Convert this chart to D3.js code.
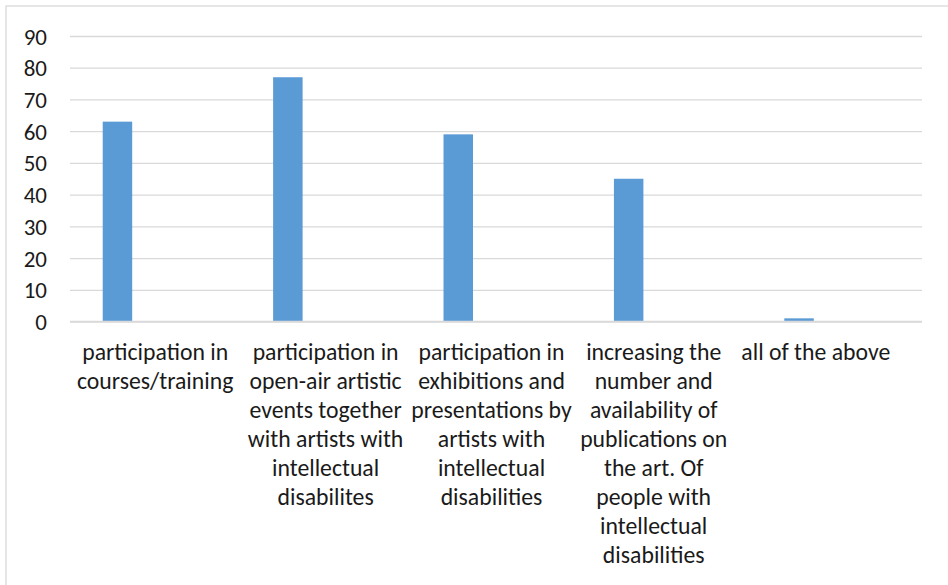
<!DOCTYPE html>
<html>
<head>
<meta charset="utf-8">
<script src="https://cdn.jsdelivr.net/npm/d3@7"></script>
<style>
  html, body { margin: 0; padding: 0; background: #fff; }
  svg { display: block; }
</style>
</head>
<body>
<svg id="chart" width="948" height="585"></svg>
<script>
// ---- data ----
const categories = [
  "participation in\ncourses/training",
  "participation in\nopen-air artistic\nevents together\nwith artists with\nintellectual\ndisabilites",
  "participation in\nexhibitions and\npresentations by\nartists with\nintellectual\ndisabilities",
  "increasing the\nnumber and\navailability of\npublications on\nthe art. Of\npeople with\nintellectual\ndisabilities",
  "all of the above"
];
const values = [63, 77, 59, 45, 1];
const yTickValues = [0, 10, 20, 30, 40, 50, 60, 70, 80, 90];

// ---- layout ----
const W = 948, H = 585;
const plot = { left: 70, right: 922, top: 36, bottom: 321.5 };
const FONT = "Carlito, Calibri, Lato, 'Open Sans', sans-serif";
const labelShift = [0, 0, -4.5, -12.7, -21];

const svg = d3.select("#chart");

// fit font size so that reference text has a target width
function fitSize(str, target) {
  const t = svg.append("text").attr("font-family", FONT).attr("font-size", 100).text(str);
  const w = t.node().getComputedTextLength();
  t.remove();
  return 100 * target / w;
}
const labelSize = fitSize("participation in", 146);
const tickSize = fitSize("90", 23.3);

// chart border
svg.append("rect")
  .attr("x", 6).attr("y", 6).attr("width", W + 10).attr("height", H + 10)
  .attr("fill", "#fff").attr("stroke", "#d9d9d9").attr("stroke-width", 1.3);

const x = d3.scaleBand().domain(categories).range([plot.left, plot.right]).padding(0);
const y = d3.scaleLinear().domain([0, 90]).range([plot.bottom, plot.top]);

// y axis with gridlines
const yAxis = d3.axisLeft(y)
  .tickValues(yTickValues)
  .tickSize(-(plot.right - plot.left))
  .tickPadding(23)
  .tickFormat(d3.format("d"));
const gy = svg.append("g").attr("transform", `translate(${plot.left},0)`).call(yAxis);
gy.select(".domain").remove();
gy.selectAll(".tick line").attr("stroke", "#d9d9d9").attr("stroke-width", 1.3);
gy.selectAll(".tick text")
  .attr("font-family", FONT).attr("font-size", tickSize)
  .attr("fill", "#1a1a1a").attr("dy", "0.35em");

// bars
const bw = x.bandwidth();
svg.append("g").selectAll("rect")
  .data(values)
  .join("rect")
  .attr("x", (d, i) => x(categories[i]) + bw * 0.192)
  .attr("width", bw * 0.173)
  .attr("y", d => y(d))
  .attr("height", d => y(0) - y(d))
  .attr("fill", "#5b9bd5");

// x-axis baseline
svg.append("line")
  .attr("x1", plot.left).attr("x2", plot.right)
  .attr("y1", y(0)).attr("y2", y(0))
  .attr("stroke", "#d9d9d9").attr("stroke-width", 1.3);

// category labels
const lineH = 29;
const gl = svg.append("g").attr("font-family", FONT).attr("font-size", labelSize)
  .attr("fill", "#1a1a1a").attr("text-anchor", "middle");
categories.forEach((c, i) => {
  const cx = x(c) + bw / 2 + labelShift[i];
  const t = gl.append("text").attr("x", cx).attr("y", 360);
  c.split("\n").forEach((line, j) => {
    t.append("tspan").attr("x", cx).attr("y", 360 + j * lineH).text(line);
  });
});
</script>
</body>
</html>
